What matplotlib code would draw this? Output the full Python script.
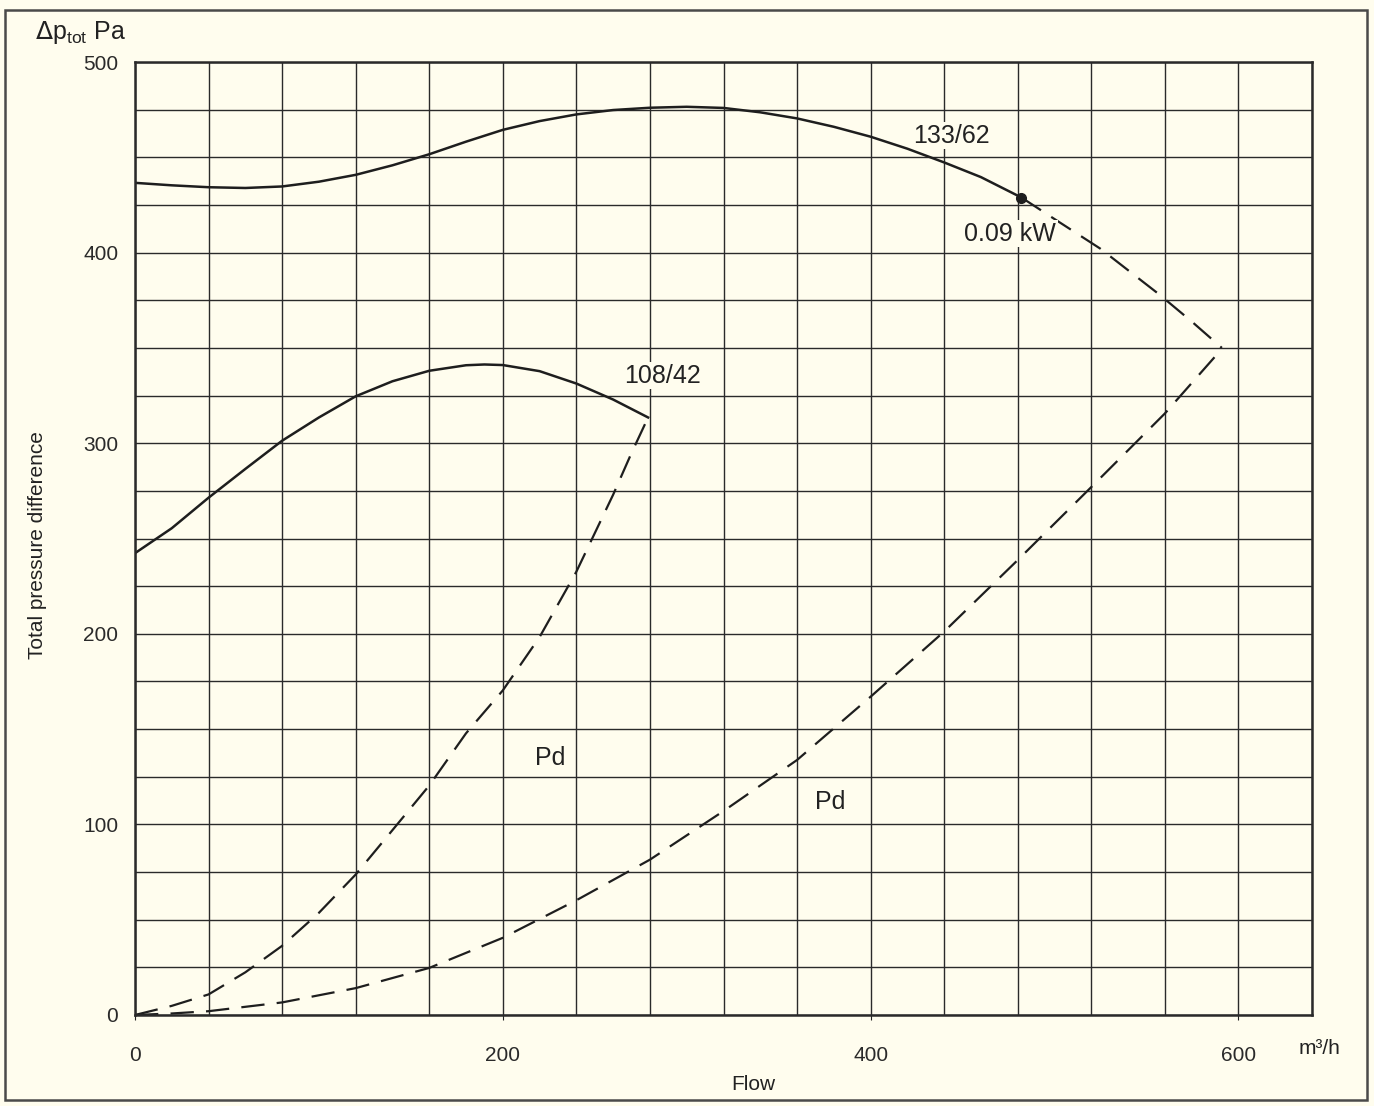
import numpy as np
import matplotlib
matplotlib.use("Agg")
import matplotlib.pyplot as plt
from matplotlib.patches import Rectangle

plt.rcParams["font.family"] = ["Liberation Sans", "DejaVu Sans"]

# Datos (caudal m3/h, presion Pa)
flujo_133 = [0, 20, 40, 60, 80, 100, 120, 140, 160, 180, 200, 220, 240, 260, 280, 300,
             320, 340, 360, 380, 400, 420, 440, 460, 482]
pres_133 = [436.6, 435.3, 434.3, 433.9, 434.7, 437.2, 440.8, 445.8, 451.6, 458.2, 464.4,
            469.0, 472.5, 474.8, 476.0, 476.5, 475.9, 473.6, 470.4, 466.0, 460.8, 454.5,
            447.3, 439.6, 428.9]

flujo_133_ext = [482, 500, 525, 557, 575, 591]
pres_133_ext = [428.9, 417.6, 402.0, 378.0, 363.5, 350.0]

flujo_108 = [0, 20, 40, 60, 80, 100, 120, 140, 160, 180, 190, 200, 220, 240, 260, 279]
pres_108 = [242.3, 255.4, 271.4, 286.5, 301.3, 313.5, 324.6, 332.5, 338.0, 340.9, 341.3,
            341.0, 337.8, 331.3, 322.9, 313.5]

flujo_pd1 = [0, 20, 40, 60, 80, 100, 120, 140, 160, 180, 200, 220, 240, 260, 270, 279]
pres_pd1 = [0, 4.8, 10.8, 22.4, 36.3, 53.6, 73.7, 97.0, 120.4, 147.8, 170.3, 198.3, 232.6,
            273.0, 294.9, 313.5]

flujo_pd2 = [0, 20, 40, 80, 120, 160, 200, 240, 280, 320, 360, 400, 440, 480, 520, 560, 591]
pres_pd2 = [0, 0.8, 2.0, 6.6, 14.1, 24.7, 40.5, 60.2, 81.5, 107.0, 133.8, 167.0, 201.2,
            238.7, 277.0, 315.6, 349.5]

punto_x, punto_y = 482, 428.9

fondo = "#fffdee"
tinta = "#1e1e1e"
guiones = (10.5, 5.5)

fig = plt.figure(figsize=(13.74, 11.06), dpi=100)
fig.patch.set_facecolor(fondo)
fig.patches.append(Rectangle((5 / 1374, 1 - 1100 / 1106), 1362 / 1374, 1090 / 1106,
                             transform=fig.transFigure, fill=False,
                             edgecolor="#4a4a4a", linewidth=1.8))

ax = fig.add_axes([135 / 1374, 1 - 1015 / 1106, 1177 / 1374, 953 / 1106])
ax.set_facecolor(fondo)
ax.set_xlim(0, 640)
ax.set_ylim(0, 500)

ax.set_xticks(np.arange(0, 641, 40), minor=True)
ax.set_yticks(np.arange(0, 501, 25), minor=True)
ax.set_xticks([0, 200, 400, 600])
ax.set_yticks([0, 100, 200, 300, 400, 500])
ax.grid(True, which="both", color="#2a2a2a", linewidth=1.0)
ax.set_axisbelow(True)
ax.tick_params(which="minor", length=0)
ax.tick_params(axis="x", which="major", length=3.6, direction="out", color="#222222",
               labelsize=15, pad=19)
ax.tick_params(axis="y", which="major", length=0, labelsize=15, pad=12)
for lbl in ax.get_xticklabels() + ax.get_yticklabels():
    lbl.set_color("#2a2a2a")
for s in ax.spines.values():
    s.set_color("#2a2a2a")
    s.set_linewidth(1.8)

ax.plot(flujo_133, pres_133, color=tinta, linewidth=1.8)
ax.plot(flujo_133_ext, pres_133_ext, color=tinta, linewidth=1.6, dashes=guiones)
ax.plot(flujo_108, pres_108, color=tinta, linewidth=1.8)
ax.plot(flujo_pd1, pres_pd1, color=tinta, linewidth=1.6, dashes=guiones)
ax.plot(flujo_pd2, pres_pd2, color=tinta, linewidth=1.6, dashes=guiones)
ax.plot([punto_x], [punto_y], "o", color=tinta, markersize=7)

caja = dict(facecolor=fondo, edgecolor="none", pad=1)
etiquetas = [
    (444, 461.3, "133/62"),
    (476, 410, "0.09 kW"),
    (287, 335.5, "108/42"),
    (226, 135, "Pd"),
    (378, 112, "Pd"),
]
for ex, ey, texto in etiquetas:
    ax.text(ex, ey, texto, fontsize=18, color="#222222", ha="center", va="center", bbox=caja)

fig.text(80 / 1374, 1 - 32 / 1106, r"$\Delta$p$_{\mathregular{tot}}$ Pa", fontsize=18,
         color="#222222", ha="center", va="center")
fig.text(38 / 1374, 1 - 545 / 1106, "Total pressure difference", fontsize=15,
         color="#222222", ha="center", va="center", rotation=90)
fig.text(753 / 1374, 1 - 1085 / 1106, "Flow", fontsize=15, color="#222222",
         ha="center", va="center")
fig.text(1320 / 1374, 1 - 1048 / 1106, "m³/h", fontsize=15, color="#222222",
         ha="center", va="center")

fig.savefig("out.png", dpi=100, facecolor=fondo)
